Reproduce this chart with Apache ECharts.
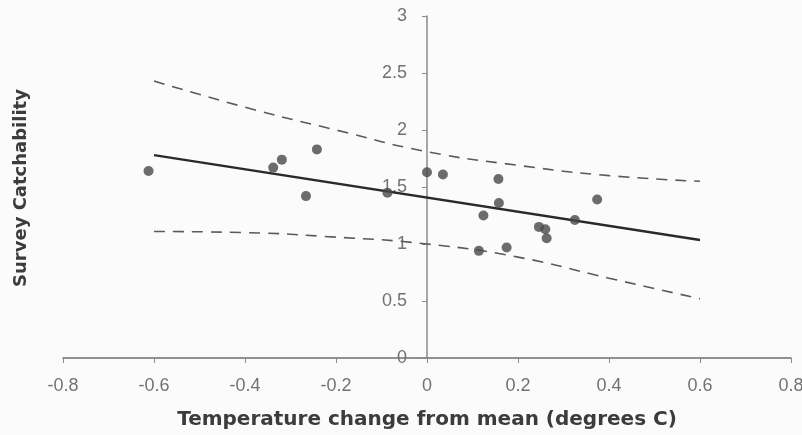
<!DOCTYPE html>
<html>
<head>
<meta charset="utf-8">
<script src="https://cdn.jsdelivr.net/npm/echarts@6/dist/echarts.min.js"></script>
<style>
  html, body { margin: 0; padding: 0; background: #fbfbfb; }
  #chart { width: 802px; height: 435px; }
</style>
</head>
<body>
<div id="chart"></div>
<script>
// observed points (temperature change, catchability)
const obsX = [-0.612, -0.338, -0.319, -0.242, -0.266, -0.087, 0.0, 0.035, 0.157, 0.158, 0.124, 0.114, 0.175, 0.246, 0.26, 0.263, 0.325, 0.374];
const obsY = [1.64, 1.67, 1.74, 1.83, 1.42, 1.45, 1.63, 1.61, 1.57, 1.36, 1.25, 0.94, 0.97, 1.15, 1.13, 1.05, 1.21, 1.39];

// regression line and confidence bands
const fitX = [-0.6, 0.6];
const fitY = [1.78, 1.035];
const bandX = [-0.6, -0.4, -0.2, 0, 0.2, 0.4, 0.6];
const upperY = [2.43, 2.2, 2.0, 1.81, 1.69, 1.6, 1.55];
const lowerY = [1.11, 1.1, 1.06, 1.0, 0.885, 0.7, 0.52];

const zip = (xs, ys) => xs.map((x, i) => [x, ys[i]]);

const GRID_LEFT = 63;
const GRID_RIGHT = 11;
const CHART_W = 802;
// the y axis crosses at x = 0, which is the middle of the -0.8..0.8 range
const yAxisShift = (CHART_W - GRID_LEFT - GRID_RIGHT) / 2;

const chart = echarts.init(document.getElementById('chart'));

const labelStyle = {
  color: '#727272',
  fontFamily: 'Liberation Sans, Arial, sans-serif',
  fontSize: 18
};

const option = {
  backgroundColor: '#fbfbfb',
  animation: false,
  grid: { left: GRID_LEFT, right: GRID_RIGHT, top: 16, bottom: 77, outerBoundsMode: 'none' },
  xAxis: {
    type: 'value',
    min: -0.8,
    max: 0.8,
    interval: 0.2,
    name: 'Temperature change from mean (degrees C)',
    nameLocation: 'middle',
    nameGap: 52,
    nameTextStyle: {
      color: '#3c3c3c',
      fontFamily: 'DejaVu Sans, Verdana, sans-serif',
      fontWeight: 'bold',
      fontSize: 20
    },
    axisLine: { onZero: false, lineStyle: { color: '#6e6e6e', width: 1.5 } },
    axisTick: { show: true, length: 5, lineStyle: { color: '#8a8a8a' } },
    axisLabel: { ...labelStyle, margin: 19 },
    splitLine: { show: false }
  },
  yAxis: {
    type: 'value',
    min: 0,
    max: 3,
    interval: 0.5,
    position: 'left',
    offset: -yAxisShift,
    axisLine: { show: true, onZero: false, lineStyle: { color: '#8a8a8a', width: 1.5 } },
    axisTick: { show: true, length: 5, lineStyle: { color: '#8a8a8a' } },
    axisLabel: { ...labelStyle, margin: 20 },
    splitLine: { show: false }
  },
  graphic: [
    {
      type: 'text',
      x: 21,
      y: 188,
      rotation: Math.PI / 2,
      style: {
        text: 'Survey Catchability',
        fill: '#3c3c3c',
        fontFamily: 'DejaVu Sans, Verdana, sans-serif',
        fontWeight: 'bold',
        fontSize: 18,
        align: 'center',
        verticalAlign: 'middle'
      }
    }
  ],
  series: [
    {
      type: 'line',
      data: zip(bandX, upperY),
      smooth: true,
      symbol: 'none',
      lineStyle: { color: '#5a5a5a', width: 1.6, type: [11, 8] },
      z: 2
    },
    {
      type: 'line',
      data: zip(bandX, lowerY),
      smooth: true,
      symbol: 'none',
      lineStyle: { color: '#5a5a5a', width: 1.6, type: [11, 8] },
      z: 2
    },
    {
      type: 'line',
      data: zip(fitX, fitY),
      symbol: 'none',
      lineStyle: { color: '#2a2a2a', width: 2.4 },
      z: 3
    },
    {
      type: 'scatter',
      data: zip(obsX, obsY),
      symbolSize: 10,
      itemStyle: { color: '#484848' },
      z: 4
    }
  ]
};

chart.setOption(option);
</script>
</body>
</html>
